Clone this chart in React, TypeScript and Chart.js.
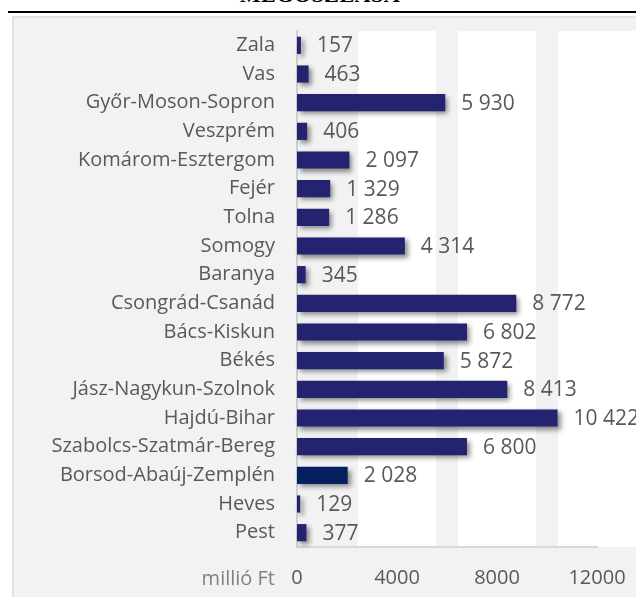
import React, { useEffect, useRef } from "react";
import { Chart, registerables } from "chart.js";

Chart.register(...registerables);

const categories = [
  "Zala",
  "Vas",
  "Győr-Moson-Sopron",
  "Veszprém",
  "Komárom-Esztergom",
  "Fejér",
  "Tolna",
  "Somogy",
  "Baranya",
  "Csongrád-Csanád",
  "Bács-Kiskun",
  "Békés",
  "Jász-Nagykun-Szolnok",
  "Hajdú-Bihar",
  "Szabolcs-Szatmár-Bereg",
  "Borsod-Abaúj-Zemplén",
  "Heves",
  "Pest",
];

const values = [157, 463, 5930, 406, 2097, 1329, 1286, 4314, 345, 8772, 6802, 5872, 8413, 10422, 6800, 2028, 129, 377];

const barColors = categories.map((c) =>
  c === "Borsod-Abaúj-Zemplén" ? "#06205f" : "#23236f"
);

const xMin = 0;
const xMax = 12000;
const xStep = 4000;
const unitLabel = "millió Ft";
const titleText = "MEGOSZLÁSA";

// white background bands (value ranges)
const bands: [number, number][] = [
  [2440, 5560],
  [6440, 9560],
  [10440, 13560],
];

const FONT = "'Open Sans', Lato, sans-serif";
const TEXT = "#595959";

function fmt(v: number): string {
  return String(v).replace(/\B(?=(\d{3})+(?!\d))/g, " ");
}

export default function App() {
  const ref = useRef<HTMLCanvasElement | null>(null);

  useEffect(() => {
    if (!ref.current) return;

    const bandPlugin = {
      id: "bands",
      beforeDraw(chart: any) {
        const { ctx, chartArea, scales } = chart;
        const x = scales.x;
        ctx.save();
        ctx.fillStyle = "#ffffff";
        bands.forEach(([a, b]) => {
          const pa = x.getPixelForValue(a);
          const pb = x.getPixelForValue(b);
          ctx.fillRect(pa, chartArea.top, pb - pa, chartArea.bottom - chartArea.top);
        });
        ctx.restore();
      },
    };

    const shadowPlugin = {
      id: "shadow",
      beforeDatasetsDraw(chart: any) {
        const ctx = chart.ctx;
        ctx.save();
        ctx.shadowColor = "rgba(0,0,0,0.45)";
        ctx.shadowBlur = 5;
        ctx.shadowOffsetX = 3;
        ctx.shadowOffsetY = 3;
      },
      afterDatasetsDraw(chart: any) {
        chart.ctx.restore();
      },
    };

    const labelPlugin = {
      id: "valueLabels",
      afterDraw(chart: any) {
        const { ctx } = chart;
        const meta = chart.getDatasetMeta(0);
        ctx.save();
        ctx.font = `21px ${FONT}`;
        ctx.fillStyle = TEXT;
        ctx.textAlign = "left";
        ctx.textBaseline = "middle";
        meta.data.forEach((bar: any, i: number) => {
          ctx.fillText(fmt(values[i]), bar.x + 16, bar.y + 1);
        });
        // unit label aligned with x tick labels
        ctx.font = `20px ${FONT}`;
        ctx.fillStyle = "#808080";
        ctx.textAlign = "right";
        ctx.fillText(unitLabel, chart.chartArea.left - 22, chart.chartArea.bottom + 32);
        ctx.restore();
      },
    };

    const chart = new Chart(ref.current, {
      type: "bar",
      data: {
        labels: categories,
        datasets: [
          {
            data: values,
            backgroundColor: barColors,
            borderWidth: 0,
            barPercentage: 0.6,
            categoryPercentage: 1,
            clip: false as any,
          },
        ],
      },
      options: {
        indexAxis: "y",
        animation: false,
        responsive: false,
        maintainAspectRatio: false,
        layout: { padding: { top: 13, right: 39, left: 0, bottom: 0 } },
        plugins: {
          legend: { display: false },
          tooltip: { enabled: false },
        },
        scales: {
          x: {
            min: xMin,
            max: xMax,
            afterFit: (s: any) => {
              s.height = 50;
              s.paddingLeft = 0;
              s.paddingRight = 0;
            },
            ticks: {
              stepSize: xStep,
              color: TEXT,
              font: { family: FONT, size: 20 },
              padding: 19,
              maxRotation: 0,
              callback: (v: any) => String(v),
            },
            grid: { display: false, drawTicks: false },
            border: { display: true, color: "#d9d9d9", width: 2 },
          },
          y: {
            afterFit: (s: any) => {
              s.width = 283;
              s.paddingTop = 0;
              s.paddingBottom = 0;
            },
            ticks: {
              color: TEXT,
              font: { family: FONT, size: 20 },
              padding: 22,
              autoSkip: false,
            },
            grid: { display: false, drawTicks: false },
            border: { display: true, color: "#d0d0d0", width: 2 },
          },
        },
      },
      plugins: [bandPlugin, shadowPlugin, labelPlugin],
    });

    return () => chart.destroy();
  }, []);

  return (
    <div
      style={{
        position: "fixed",
        left: 0,
        top: 0,
        width: 636,
        height: 597,
        overflow: "hidden",
        background: "#ffffff",
      }}
    >
      <div
        style={{
          position: "absolute",
          left: 0,
          width: 636,
          textAlign: "center",
          top: -16,
          paddingLeft: 4,
          boxSizing: "border-box",
          fontFamily: "'Liberation Serif', 'DejaVu Serif', serif",
          fontWeight: "bold",
          fontSize: 22,
          lineHeight: "22px",
          color: "#000",
          letterSpacing: 0.5,
        }}
      >
        {titleText}
      </div>
      <div
        style={{
          position: "absolute",
          left: 8,
          top: 11,
          width: 628,
          height: 2,
          background: "#000",
        }}
      />
      <div
        style={{
          position: "absolute",
          left: 12,
          top: 16,
          width: 640,
          height: 600,
          background: "#f2f2f2",
          border: "2px solid #e2e2e2",
          boxSizing: "border-box",
        }}
      />
      <canvas
        ref={ref}
        width={622}
        height={579}
        style={{ position: "absolute", left: 14, top: 18, width: 622, height: 579 }}
      />
    </div>
  );
}
